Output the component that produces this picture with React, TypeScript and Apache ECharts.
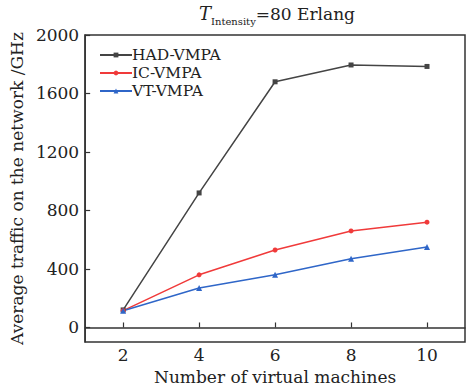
import React, { useEffect, useRef } from "react";
import * as echarts from "echarts";

const xValues = [2, 4, 6, 8, 10];
const hadVmpa = [120, 920, 1680, 1795, 1785];
const icVmpa = [115, 360, 530, 660, 720];
const vtVmpa = [115, 270, 360, 470, 550];
const yTicks = [0, 400, 800, 1200, 1600, 2000];
const xTicks = [2, 4, 6, 8, 10];

const FONT = "DejaVu Serif";

export default function App() {
  const ref = useRef<HTMLDivElement>(null);
  useEffect(() => {
    document.body.style.margin = "0";
    const chart = echarts.init(ref.current!, null, { renderer: "svg" });
    const pair = (ys: number[]) => xValues.map((x, i) => [x, ys[i]]);
    const axisCommon = {
      axisLine: { show: true, lineStyle: { color: "#333", width: 1.5 } },
      axisTick: { show: true, inside: true, length: 5, lineStyle: { color: "#333", width: 1.2 } },
      splitLine: { show: false },
      axisLabel: { color: "#222", fontFamily: FONT, fontSize: 17 },
      nameTextStyle: { color: "#222", fontFamily: FONT, fontSize: 17 },
    };
    chart.setOption({
      animation: false,
      backgroundColor: "#fff",
      title: {
        text: "{i|T}{s|Intensity}{n|=80 Erlang}",
        left: 272,
        textAlign: "center",
        top: -3,
        textStyle: {
          fontWeight: "normal",
          rich: {
            i: { fontFamily: FONT, fontSize: 18, fontStyle: "italic", fontWeight: "normal", color: "#222", verticalAlign: "bottom", lineHeight: 20 },
            s: { fontFamily: FONT, fontSize: 10, fontWeight: "normal", color: "#222", verticalAlign: "bottom", lineHeight: 14, padding: [0, 0, -4, 0] },
            n: { fontFamily: FONT, fontSize: 17, fontWeight: "normal", color: "#222", verticalAlign: "bottom", lineHeight: 20 },
          },
        },
      },
      legend: {
        orient: "vertical",
        left: 94,
        top: 42,
        itemWidth: 32,
        itemHeight: 6,
        itemGap: 2,
        textStyle: { fontFamily: FONT, fontSize: 15.5, lineHeight: 15, color: "#222", padding: [0, 0, 0, -5] },
        data: ["HAD-VMPA", "IC-VMPA", "VT-VMPA"],
      },
      grid: {
        left: 82,
        top: 35,
        right: 1,
        bottom: 46,
        show: true,
        borderColor: "#333",
        borderWidth: 1.5,
        containLabel: false,
      },
      xAxis: {
        type: "value",
        min: 1,
        max: 11,
        name: "Number of virtual machines",
        nameLocation: "middle",
        nameGap: 18,
        ...axisCommon,
        axisTick: { ...axisCommon.axisTick, customValues: xTicks },
        axisLabel: { ...axisCommon.axisLabel, customValues: xTicks, margin: 4 },
      },
      yAxis: {
        type: "value",
        min: -100,
        max: 2000,
        name: "Average traffic on the network /GHz",
        nameLocation: "middle",
        nameGap: 53,
        ...axisCommon,
        axisTick: { ...axisCommon.axisTick, customValues: yTicks },
        axisLabel: { ...axisCommon.axisLabel, customValues: yTicks, margin: 6, formatter: (v: number) => String(v) },
      },
      series: [
        {
          name: "HAD-VMPA",
          type: "line",
          data: pair(hadVmpa),
          symbol: "rect",
          symbolSize: 5,
          color: "#444444",
          lineStyle: { width: 1.5 },
        },
        {
          name: "IC-VMPA",
          type: "line",
          data: pair(icVmpa),
          symbol: "circle",
          symbolSize: 5,
          color: "#f03a3a",
          lineStyle: { width: 1.5 },
        },
        {
          name: "VT-VMPA",
          type: "line",
          data: pair(vtVmpa),
          symbol: "triangle",
          symbolSize: 6,
          color: "#2f66c8",
          lineStyle: { width: 1.5 },
        },
      ],
    });
    return () => chart.dispose();
  }, []);
  return <div ref={ref} style={{ width: 466, height: 390 }} />;
}
